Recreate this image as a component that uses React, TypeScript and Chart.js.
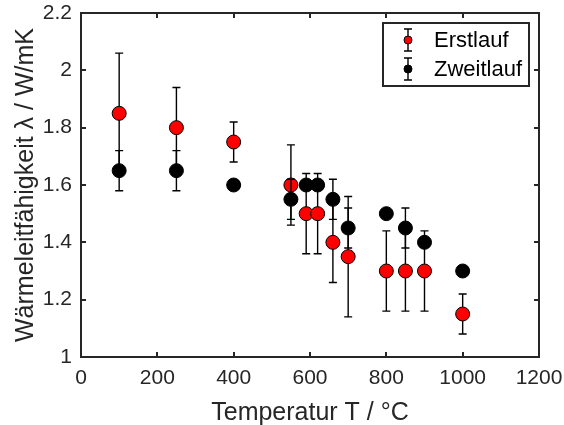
import React, { useEffect, useRef } from "react";
import { Chart, registerables } from "chart.js";

Chart.register(...registerables);

const temperatures = [100, 250, 400, 550, 590, 620, 660, 700, 800, 850, 900, 1000];
const erstlauf = [1.85, 1.8, 1.75, 1.6, 1.5, 1.5, 1.4, 1.35, 1.3, 1.3, 1.3, 1.15];
const erstlaufErr = [0.21, 0.14, 0.07, 0.14, 0.14, 0.14, 0.14, 0.21, 0.14, 0.14, 0.14, 0.07];
const zweitlauf = [1.65, 1.65, 1.6, 1.55, 1.6, 1.6, 1.55, 1.45, 1.5, 1.45, 1.4, 1.3];
const zweitlaufErr = [0.07, 0.07, 0, 0.07, 0, 0, 0.07, 0.07, 0, 0.07, 0, 0];
const xTicks = [0, 200, 400, 600, 800, 1000, 1200];
const yTicks = [1, 1.2, 1.4, 1.6, 1.8, 2, 2.2];
const seriesNames = ["Erstlauf", "Zweitlauf"];
const seriesColors = ["#ff0000", "#000000"];
const xTitle = "Temperatur T / °C";
const yTitle = "Wärmeleitfähigkeit λ / W/mK";

const FONT = '"Liberation Sans", Arial, Helvetica, sans-serif';
const AX = "#262626";

const errPlugin = {
  id: "errbars",
  beforeDatasetDraw(chart: any, args: any) {
    const ds = chart.data.datasets[args.index];
    const errs = ds.errors;
    if (!errs) return;
    const ctx = chart.ctx;
    const xs = chart.scales.x;
    const ys = chart.scales.y;
    ctx.save();
    ctx.strokeStyle = "#000";
    ctx.lineWidth = 1.4;
    ds.data.forEach((p: any, i: number) => {
      const e = errs[i];
      if (!e) return;
      const px = xs.getPixelForValue(p.x);
      const y1 = ys.getPixelForValue(p.y + e);
      const y2 = ys.getPixelForValue(p.y - e);
      ctx.beginPath();
      ctx.moveTo(px, y1);
      ctx.lineTo(px, y2);
      ctx.moveTo(px - 4, y1);
      ctx.lineTo(px + 4, y1);
      ctx.moveTo(px - 4, y2);
      ctx.lineTo(px + 4, y2);
      ctx.stroke();
    });
    ctx.restore();
  },
};

const boxPlugin = {
  id: "axbox",
  beforeDatasetsDraw(chart: any) {
    const { ctx, chartArea: a } = chart;
    const xs = chart.scales.x;
    const ys = chart.scales.y;
    ctx.save();
    ctx.strokeStyle = AX;
    ctx.lineWidth = 2;
    ctx.beginPath();
    const tl = 5;
    xTicks.forEach((v) => {
      const px = Math.round(xs.getPixelForValue(v));
      ctx.moveTo(px, a.bottom);
      ctx.lineTo(px, a.bottom - tl);
      ctx.moveTo(px, a.top);
      ctx.lineTo(px, a.top + tl);
    });
    yTicks.forEach((v) => {
      const py = Math.round(ys.getPixelForValue(v));
      ctx.moveTo(a.left, py);
      ctx.lineTo(a.left + tl, py);
      ctx.moveTo(a.right, py);
      ctx.lineTo(a.right - tl, py);
    });
    ctx.stroke();
    ctx.strokeRect(a.left, a.top, a.right - a.left, a.bottom - a.top);
    ctx.restore();
  },
};

const decoPlugin = {
  id: "deco",
  afterDraw(chart: any) {
    const { ctx, chartArea: a } = chart;
    ctx.save();
    // axis titles
    ctx.fillStyle = AX;
    ctx.font = `25px ${FONT}`;
    ctx.textAlign = "center";
    ctx.textBaseline = "alphabetic";
    ctx.fillText(xTitle, (a.left + a.right) / 2, 420);
    ctx.save();
    ctx.translate(33, (a.top + a.bottom) / 2);
    ctx.rotate(-Math.PI / 2);
    ctx.fillText(yTitle, 0, 0);
    ctx.restore();

    // legend
    const w = 146;
    const h = 63;
    const lx = a.right - 10 - w;
    const ly = a.top + 10;
    ctx.fillStyle = "#fff";
    ctx.fillRect(lx, ly, w, h);
    ctx.strokeStyle = AX;
    ctx.lineWidth = 2;
    ctx.strokeRect(lx, ly, w, h);
    seriesNames.forEach((name, i) => {
      const cy = ly + 17 + i * 29;
      const sx = lx + 25;
      ctx.strokeStyle = "#000";
      ctx.lineWidth = 1.4;
      ctx.beginPath();
      ctx.moveTo(sx, cy - 11);
      ctx.lineTo(sx, cy + 11);
      ctx.moveTo(sx - 4, cy - 11);
      ctx.lineTo(sx + 4, cy - 11);
      ctx.moveTo(sx - 4, cy + 11);
      ctx.lineTo(sx + 4, cy + 11);
      ctx.stroke();
      ctx.beginPath();
      ctx.arc(sx, cy, 4, 0, Math.PI * 2);
      ctx.fillStyle = seriesColors[i];
      ctx.fill();
      ctx.lineWidth = 1;
      ctx.stroke();
      ctx.fillStyle = "#000";
      ctx.font = `22px ${FONT}`;
      ctx.textAlign = "left";
      ctx.textBaseline = "middle";
      ctx.fillText(name, lx + 51, cy + 1);
    });
    ctx.restore();
  },
};

export default function App() {
  const ref = useRef<HTMLCanvasElement | null>(null);
  useEffect(() => {
    document.body.style.margin = "0";
    const canvas = ref.current;
    if (!canvas) return;
    const mk = (ys: number[]) => temperatures.map((t, i) => ({ x: t, y: ys[i] }));
    const chart = new Chart(canvas, {
      type: "scatter",
      data: {
        datasets: [
          {
            label: seriesNames[0],
            data: mk(erstlauf),
            errors: erstlaufErr,
            pointRadius: 7,
            pointBackgroundColor: seriesColors[0],
            pointBorderColor: "#000",
            pointBorderWidth: 1,
            order: 2,
          } as any,
          {
            label: seriesNames[1],
            data: mk(zweitlauf),
            errors: zweitlaufErr,
            pointRadius: 7,
            pointBackgroundColor: seriesColors[1],
            pointBorderColor: "#000",
            pointBorderWidth: 1,
            order: 1,
          } as any,
        ],
      },
      options: {
        responsive: false,
        animation: false,
        devicePixelRatio: 1,
        layout: { padding: { left: 0, top: 13, right: 25, bottom: 0 } },
        plugins: { legend: { display: false }, tooltip: { enabled: false } },
        scales: {
          x: {
            type: "linear",
            min: 0,
            max: 1200,
            grid: { display: false, drawTicks: false },
            border: { display: false },
            afterFit: (s: any) => {
              s.height = 68;
              s.paddingLeft = 0;
              s.paddingRight = 0;
            },
            afterBuildTicks: (s: any) => {
              s.ticks = xTicks.map((v) => ({ value: v }));
            },
            ticks: {
              padding: 9,
              color: AX,
              font: { family: FONT, size: 21 },
              maxRotation: 0,
              autoSkip: false,
              callback: (v: any) => String(v),
            },
          },
          y: {
            type: "linear",
            min: 1,
            max: 2.2,
            grid: { display: false, drawTicks: false },
            border: { display: false },
            afterFit: (s: any) => {
              s.width = 81;
              s.paddingTop = 0;
              s.paddingBottom = 0;
            },
            afterBuildTicks: (s: any) => {
              s.ticks = yTicks.map((v) => ({ value: v }));
            },
            ticks: {
              padding: 9,
              color: AX,
              font: { family: FONT, size: 21 },
              autoSkip: false,
              callback: (v: any) => String(Number(Number(v).toFixed(1))),
            },
          },
        },
      } as any,
      plugins: [errPlugin, boxPlugin, decoPlugin],
    });
    return () => chart.destroy();
  }, []);
  return (
    <div style={{ width: 564, height: 425 }}>
      <canvas ref={ref} width={564} height={425} style={{ display: "block" }} />
    </div>
  );
}
